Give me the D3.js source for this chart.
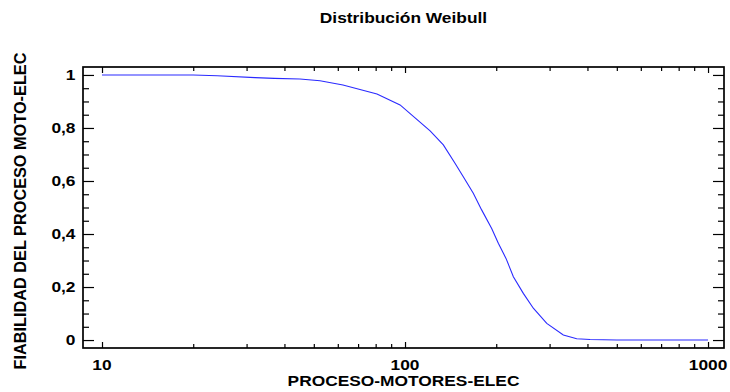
<!DOCTYPE html>
<html>
<head>
<meta charset="utf-8">
<script src="https://cdn.jsdelivr.net/npm/d3@7"></script>
<style>
  body { margin: 0; background: #fff; }
  text { font-family: "Liberation Sans", Arial, sans-serif; font-weight: bold; fill: #000; }
</style>
</head>
<body>
<div id="chart"></div>
<script>
// datos
const tiempos = [10, 15, 20, 24, 32, 37, 45, 52.4, 62.4, 80.8, 96.3, 121, 133.8, 146.2, 155.7, 168, 179, 193.2, 203.2, 215.4, 227.8, 245.7, 265.1, 293.6, 333, 368.7, 408, 500, 700, 1000];
const fiabilidad = [1, 1, 1, 0.997, 0.99, 0.987, 0.985, 0.978, 0.962, 0.928, 0.887, 0.789, 0.736, 0.667, 0.616, 0.554, 0.491, 0.421, 0.365, 0.308, 0.239, 0.176, 0.12, 0.063, 0.019, 0.005, 0.002, 0, 0, 0];
const xMayores = [10, 100, 1000];
const xMenores = [20, 30, 40, 50, 60, 70, 80, 90, 200, 300, 400, 500, 600, 700, 800, 900];
const yMayores = [0, 0.2, 0.4, 0.6, 0.8, 1];
const yMenores = [0.05, 0.1, 0.15, 0.25, 0.3, 0.35, 0.45, 0.5, 0.55, 0.65, 0.7, 0.75, 0.85, 0.9, 0.95];

const titulo = 'Distribución Weibull';
const tituloX = 'PROCESO-MOTORES-ELEC';
const tituloY = 'FIABILIDAD DEL PROCESO MOTO-ELEC';

const width = 730, height = 392;
const x0 = 83, x1 = 724, y0 = 67, y1 = 348;
const ancho = 1.24; // el original tiene el texto ensanchado

const svg = d3.select('#chart').append('svg')
  .attr('width', width)
  .attr('height', height);

const x = d3.scaleLog().domain([8.655, 1129]).range([x0, x1]);
const y = d3.scaleLinear().domain([-0.03, 1.03]).range([y1, y0]);

const fmt = v => String(v).replace('.', ',');

// ticks hacia dentro en los cuatro lados
const axes = svg.append('g');
function ticks(axisFn, scale, values, size, transform) {
  axes.append('g')
    .attr('transform', transform)
    .call(axisFn(scale).tickValues(values).tickSize(-size).tickFormat(''))
    .call(g => g.select('.domain').remove())
    .call(g => g.selectAll('line').attr('stroke', '#000').attr('stroke-width', 1.2));
}
ticks(d3.axisBottom, x, xMayores, 6, `translate(0,${y1})`);
ticks(d3.axisBottom, x, xMenores, 4, `translate(0,${y1})`);
ticks(d3.axisTop, x, xMayores, 6, `translate(0,${y0})`);
ticks(d3.axisTop, x, xMenores, 4, `translate(0,${y0})`);
ticks(d3.axisLeft, y, yMayores, 11, `translate(${x0},0)`);
ticks(d3.axisLeft, y, yMenores, 6, `translate(${x0},0)`);
ticks(d3.axisRight, y, yMayores, 11, `translate(${x1},0)`);
ticks(d3.axisRight, y, yMenores, 6, `translate(${x1},0)`);

svg.append('rect')
  .attr('x', x0).attr('y', y0)
  .attr('width', x1 - x0).attr('height', y1 - y0)
  .attr('fill', 'none').attr('stroke', '#000').attr('stroke-width', 1.7);

// etiquetas
svg.selectAll('.xl').data(xMayores).enter().append('text')
  .attr('transform', d => `translate(${x(d)},370) scale(${ancho},1)`)
  .attr('text-anchor', 'middle').style('font-size', '14px')
  .text(d => d);

svg.selectAll('.yl').data(yMayores).enter().append('text')
  .attr('transform', d => `translate(75.5,${y(d)}) scale(${ancho},1)`)
  .attr('dy', '0.36em')
  .attr('text-anchor', 'end').style('font-size', '14px')
  .text(fmt);

svg.append('text')
  .attr('transform', `translate(${(x0 + x1) / 2},23) scale(${ancho},1)`)
  .attr('text-anchor', 'middle').style('font-size', '14px')
  .text(titulo);

svg.append('text')
  .attr('transform', `translate(${(x0 + x1) / 2},386) scale(${ancho},1)`)
  .attr('text-anchor', 'middle').style('font-size', '14px')
  .text(tituloX);

svg.append('text')
  .attr('transform', 'translate(26,211) rotate(-90)')
  .attr('text-anchor', 'middle').style('font-size', '16.3px')
  .text(tituloY);

// curva
const line = d3.line()
  .x((d, i) => x(tiempos[i]))
  .y(d => y(d));

svg.append('path')
  .datum(fiabilidad)
  .attr('d', line)
  .attr('fill', 'none')
  .attr('stroke', '#2a2aff')
  .attr('stroke-width', 1.1);
</script>
</body>
</html>
